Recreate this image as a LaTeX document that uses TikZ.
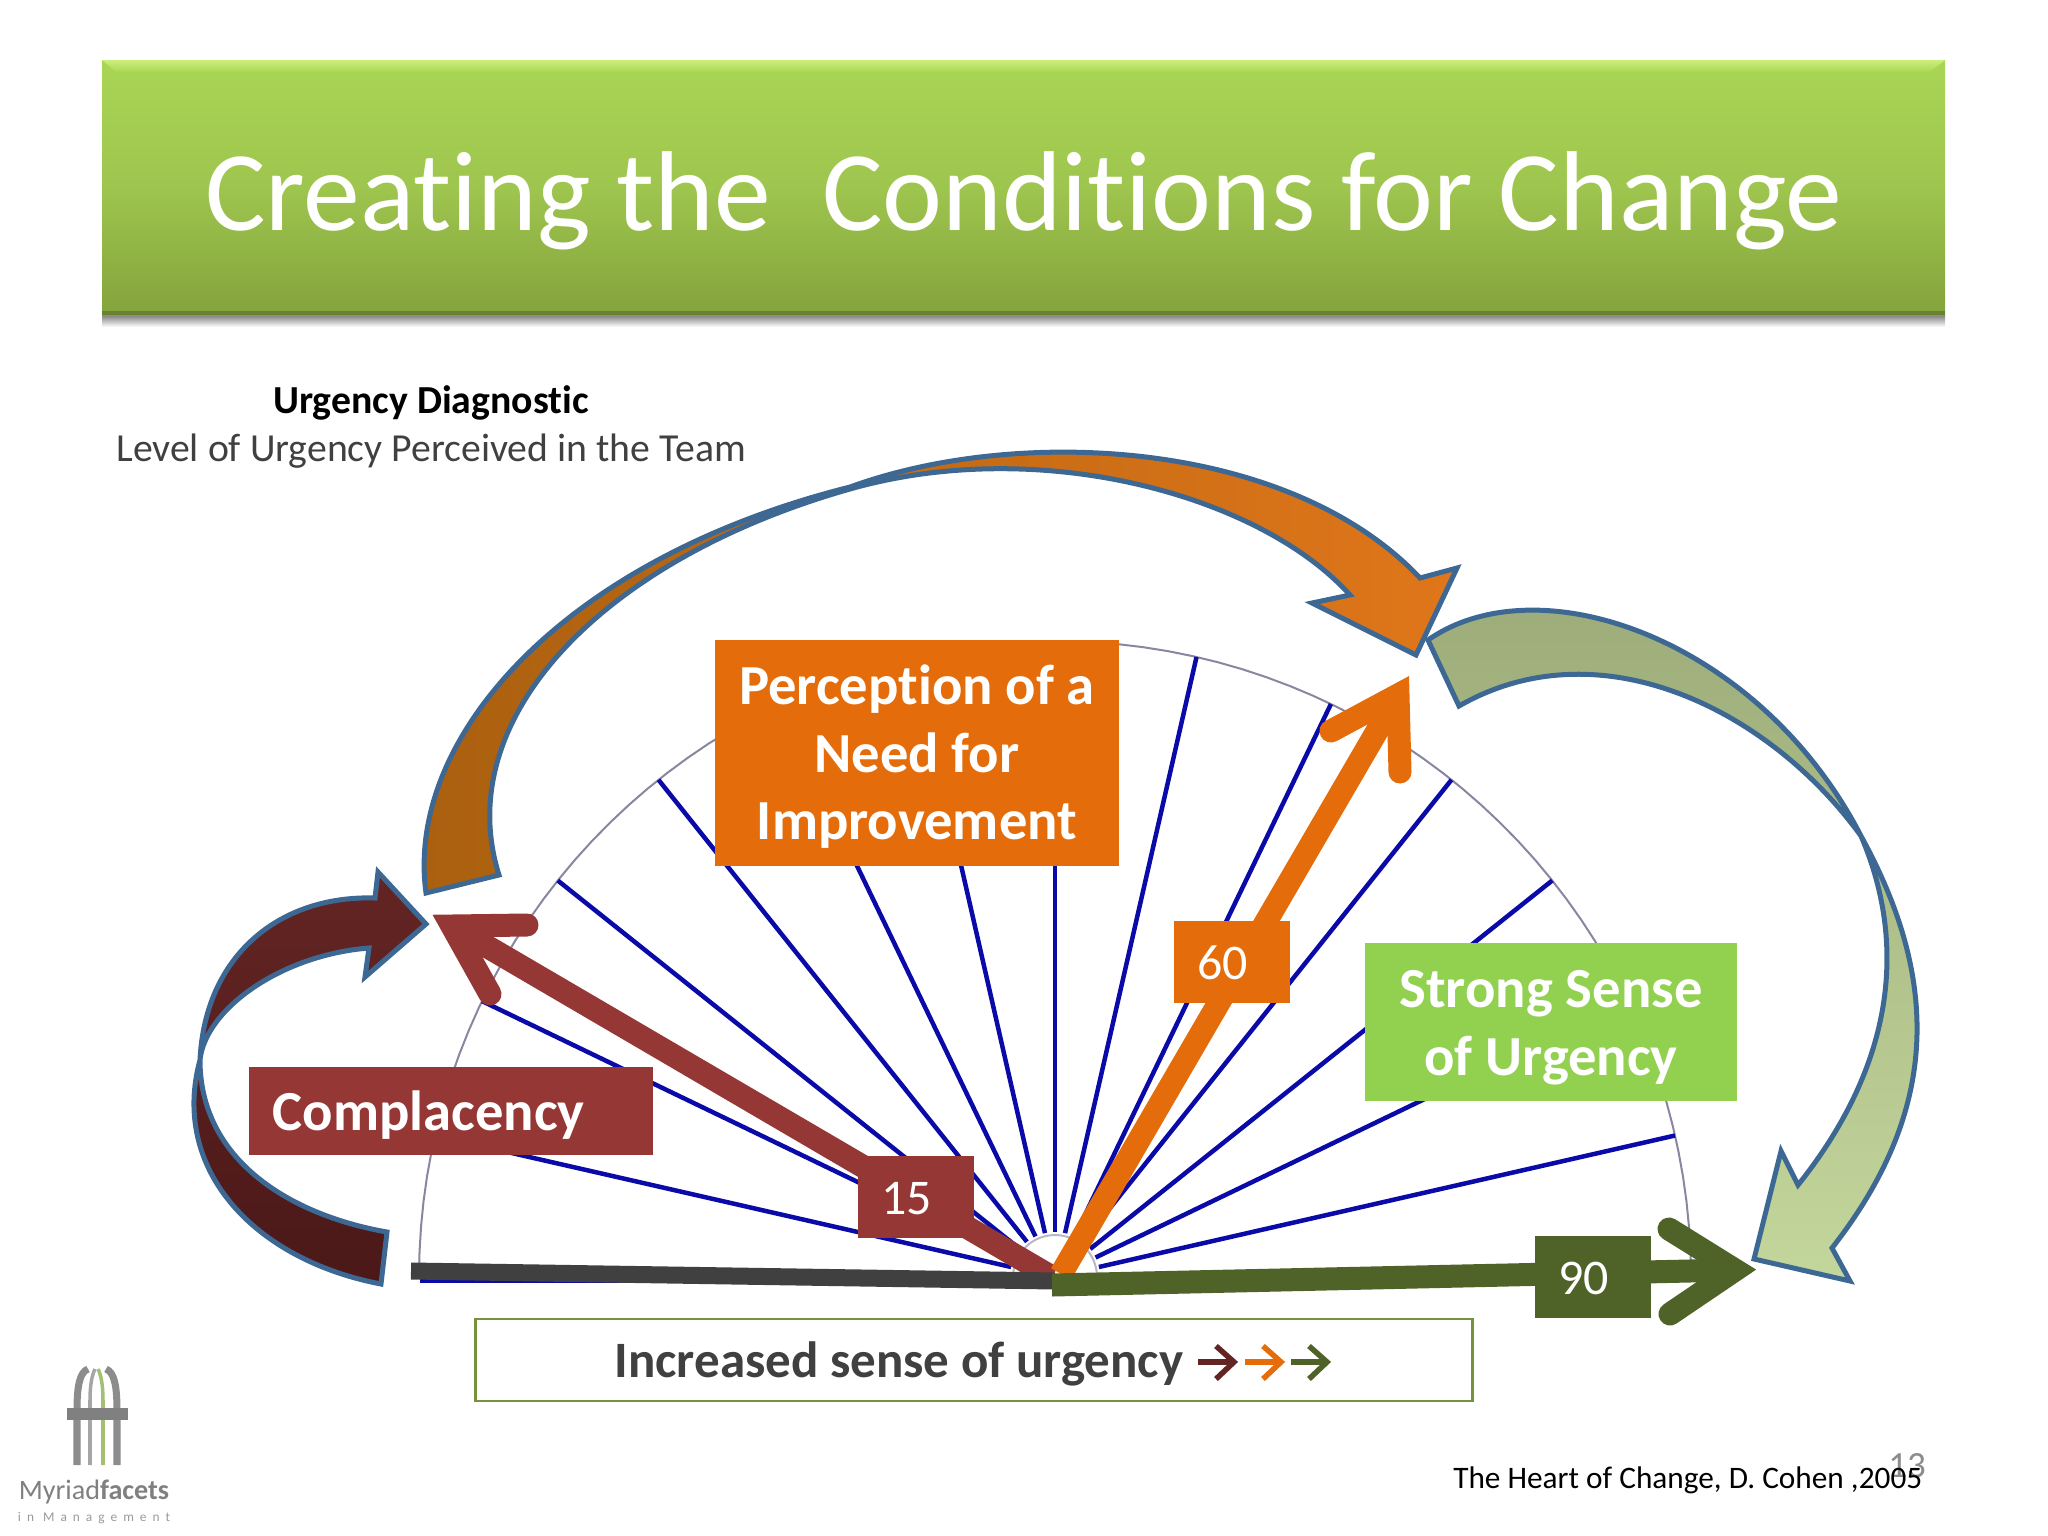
\documentclass[tikz,border=0pt]{standalone}
\usepackage{fontspec}
\setmainfont{Carlito}[Ligatures=NoCommon]
\usepackage{tikz}
\usetikzlibrary{shapes,arrows,positioning}

\definecolor{barred}{HTML}{953735}
\definecolor{barorange}{HTML}{E46C0A}
\definecolor{bargreen}{HTML}{4F6228}
\definecolor{boxgreen}{HTML}{92D050}
\definecolor{darkgrey}{HTML}{404040}
\definecolor{outlineblue}{HTML}{3D6894}
\definecolor{rayblue}{HTML}{0A0AA8}
\definecolor{rimgrey}{HTML}{8A86A0}
\definecolor{wine}{HTML}{632523}
\definecolor{winedark}{HTML}{4B1818}
\definecolor{framegreen}{HTML}{76923C}
\definecolor{bandtop}{HTML}{A9D655}
\definecolor{bandmid}{HTML}{9EC54E}
\definecolor{bandlow}{HTML}{84A33C}
\definecolor{bandlight}{HTML}{CDEE7D}
\definecolor{banddark}{HTML}{698232}
\definecolor{ambertail}{HTML}{A9600F}
\definecolor{amberhead}{HTML}{E0761A}
\definecolor{sagetop}{HTML}{9BAA78}
\definecolor{sagelow}{HTML}{C3D69B}
\definecolor{logolime}{HTML}{A3BF72}

\tikzset{
	numbox/.style={fill=#1, text=white, inner sep=0pt, outer sep=0pt, minimum width=1.15cm, minimum height=0.82cm, text height=0.355cm, text depth=0pt, font=\fontsize{14.2}{17}\selectfont},
	namebox/.style={fill=#1, text=white, inner sep=0pt, outer sep=0pt, align=center, font=\bfseries\fontsize{16.1}{19.3}\selectfont},
	curvearrow/.style={draw=outlineblue, line width=0.05cm, line join=miter},
	gaugeray/.style={draw=rayblue, line width=0.045cm},
	thickbar/.style={draw=#1, line width=0.23cm},
	openhead/.style={draw=#1, line width=0.23cm, line cap=round, line join=miter},
}

\begin{document}
\begin{tikzpicture}[x=0.01cm,y=-0.01cm]
				\path [use as bounding box] (0,0) rectangle (2048,1536);

				% title band
				\shade [top color=black!50, bottom color=white] (102,315) rectangle (1945,327);
				\shade [top color=bandtop, bottom color=bandlow, middle color=bandmid] (102,60) rectangle (1945,315);
				\shade [top color=bandlight, bottom color=bandtop] (102,60) -- (1945,60) -- (1930,72) -- (116,72) -- cycle;
				\fill [banddark] (102,315) -- (102,311) -- (1945,311) -- (1945,315) -- cycle;
				\node (title) [text=white, inner sep=0pt, font=\fontsize{32.3}{38}\selectfont] at (1024,201) {Creating the\ \ Conditions for Change};

				\node (diagnostic) [inner sep=0pt, font=\bfseries\fontsize{11.3}{13}\selectfont] at (431,403) {Urgency Diagnostic};
				\node (perceived) [inner sep=0pt, text=darkgrey, font=\fontsize{11.3}{13}\selectfont] at (431,451) {Level of Urgency Perceived in the Team};

				% gauge
				\coordinate (gauge) at (1055,1277);
				\draw [draw=rimgrey, line width=0.02cm] plot [domain=0:180, samples=80] ({1055+636*cos(\x)},{1277-636*sin(\x)});
				\draw [draw=rimgrey!60, line width=0.02cm] plot [domain=0:180, samples=30] ({1055+42*cos(\x)},{1277-42*sin(\x)});
				\foreach \k in {1,...,13}
					\draw [gaugeray, shift={(gauge)}] (-\k*180/14:45) -- (-\k*180/14:636);
				\draw [gaugeray] (420,1281) -- (1055,1281);

				% curved arrows
				\draw [curvearrow, top color=wine, bottom color=winedark]
					(375,898) .. controls (280,895) and (205,955) .. (200,1060)
					.. controls (170,1170) and (255,1260) .. (381,1284)
					-- (387,1232)
					.. controls (290,1215) and (200,1160) .. (200,1060)
					.. controls (205,1010) and (280,955) .. (369,948)
					-- (365,977) -- (426,924) -- (378,872) -- cycle;
				\draw [curvearrow, left color=ambertail, right color=amberhead]
					(426,893) .. controls (405,740) and (560,560) .. (850,487)
					.. controls (1020,425) and (1290,440) .. (1420,578)
					-- (1457,568) -- (1416,655) -- (1312,603) -- (1350,595)
					.. controls (1260,495) and (1040,435) .. (850,489)
					.. controls (600,560) and (450,720) .. (499,875) -- cycle;
				\draw [curvearrow, top color=sagetop, bottom color=sagelow]
					(1428,640) .. controls (1540,562) and (1760,640) .. (1861,836)
					.. controls (1940,980) and (1940,1110) .. (1832,1248)
					-- (1850,1281) -- (1754,1259) -- (1781,1151) -- (1798,1185)
					.. controls (1890,1070) and (1910,950) .. (1861,836)
					.. controls (1770,710) and (1600,625) .. (1459,706) -- cycle;

				% needle positions
				\draw [thickbar=barred] (1052,1277) -- (452,926);
				\draw [openhead=barred] (527,925) -- (452,926) -- (490,994);
				\draw [thickbar=barorange] (1061,1274) -- (1398,695);
				\draw [openhead=barorange] (1331,731) -- (1398,695) -- (1400,772);
				\draw [thickbar=darkgrey, line width=0.17cm] (411,1271) -- (1055,1281);
				\draw [thickbar=bargreen] (1052,1285) -- (1735,1270);
				\draw [openhead=bargreen] (1669,1229) -- (1735,1270) -- (1670,1314);

				% labels
				\node (need) [namebox=barorange, minimum width=4.03cm, minimum height=2.26cm] at (917,753) {\rule{0pt}{0.47cm}Perception of a\\Need for\\Improvement};
				\node (complacency) [namebox=barred, align=left, text width=3.56cm, inner xsep=0.24cm, minimum height=0.88cm] at (451,1111) {\rule{0pt}{0.47cm}Complacency};
				\node (strong) [namebox=boxgreen, minimum width=3.71cm, minimum height=1.58cm] at (1551,1022) {\rule{0pt}{0.49cm}Strong Sense\\of Urgency};
				\node (fifteen) [numbox=barred] at (916,1197) {\hspace*{-0.19cm}15};
				\node (sixty) [numbox=barorange] at (1232,962) {\hspace*{-0.19cm}60};
				\node (ninety) [numbox=bargreen] at (1593,1277) {\hspace*{-0.19cm}90};

				% scale caption
				\node (caption) [draw=framegreen, line width=0.025cm, inner sep=0pt, minimum width=9.96cm, minimum height=0.82cm] at (974,1360) {};
				\node (increased) [anchor=east, inner sep=0pt, text=darkgrey, font=\bfseries\fontsize{14.5}{17}\selectfont] at (1184,1364) {Increased sense of urgency};
				\foreach \xa/\col in {1198/wine,1245/barorange,1291/bargreen} {
					\draw [draw=\col, line width=0.055cm] (\xa,1362) -- (\xa+36,1362);
					\draw [draw=\col, line width=0.055cm, line join=miter] (\xa+18,1346) -- (\xa+36,1362) -- (\xa+18,1379);
				}

				\node (pageno) [inner sep=0pt, text=black!45, font=\fontsize{10.5}{12}\selectfont] at (1907,1466) {13};
				\node (source) [anchor=east, inner sep=0pt, font=\fontsize{8.9}{11}\selectfont] at (1923,1480) {The Heart of Change, D. Cohen ,2005};

				% logo
				\draw [draw=black!45, line width=0.07cm] (77,1465) -- (77,1410) .. controls (77,1385) and (80,1372) .. (88,1369);
				\draw [draw=black!45, line width=0.07cm] (117,1465) -- (117,1410) .. controls (117,1385) and (114,1372) .. (106,1369);
				\draw [draw=black!35, line width=0.035cm] (90,1465) -- (90,1400) .. controls (90,1385) and (92,1375) .. (95,1369);
				\draw [draw=logolime, line width=0.035cm] (103,1465) -- (103,1400) .. controls (103,1385) and (101,1375) .. (98,1369);
				\fill [black!50] (67,1408) rectangle (128,1420);
				\node (logoname) [inner sep=0pt, text=black!50, font=\fontsize{8}{9}\selectfont] at (94,1492) {Myriad\textbf{facets}};
				\node (logosub) [inner sep=0pt, text=black!40, font=\addfontfeature{LetterSpace=45}\fontsize{3.8}{4}\selectfont] at (94,1518) {in Management};
\end{tikzpicture}
\end{document}
